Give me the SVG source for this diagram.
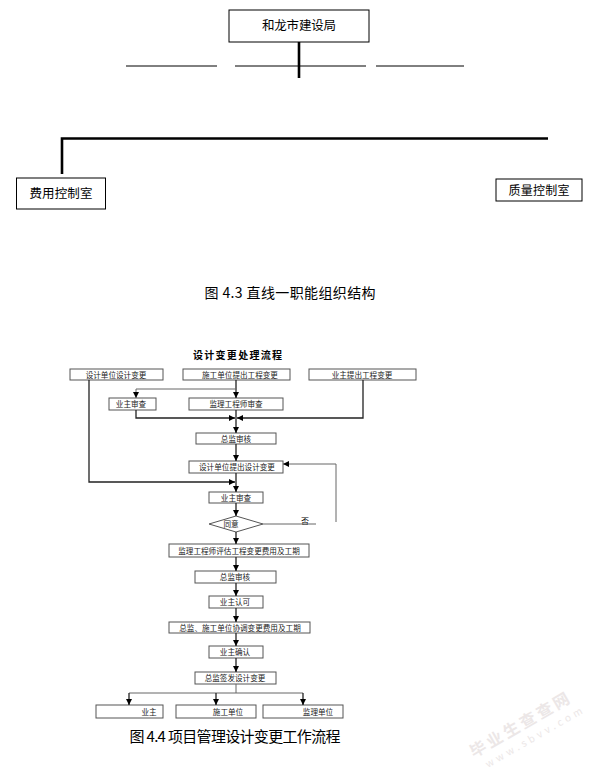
<svg xmlns="http://www.w3.org/2000/svg" width="596" height="773" viewBox="0 0 596 773">
<style>
.t{font-family:"Noto Sans CJK SC","Liberation Sans",sans-serif;fill:#000}
.b{fill:#fff;stroke:#000;stroke-width:1}
.fb{fill:#fff;stroke:#555;stroke-width:1}
.ft{font-family:"Noto Sans CJK SC","Liberation Sans",sans-serif;font-size:7.6px;fill:#222;text-anchor:middle}
.ln{fill:none;stroke:#000;stroke-width:1}
.thick{fill:none;stroke:#000;stroke-width:2.6}
.fl{fill:none;stroke:#222;stroke-width:1.3}
.fg{fill:none;stroke:#666;stroke-width:1}
</style>
<defs>
<marker id="ah" viewBox="0 0 10 10" refX="10" refY="5" markerWidth="6" markerHeight="6" markerUnits="userSpaceOnUse" orient="auto"><path d="M0,0 L10,5 L0,10 z" fill="#000"/></marker>
</defs>
<rect width="596" height="773" fill="#fff"/>

<!-- Top org chart -->
<g id="n-jsj"><rect class="b" x="229" y="10" width="140" height="32"/><text class="t" x="299" y="30" font-size="12.5" text-anchor="middle" textLength="74">和龙市建设局</text></g>
<g id="n-fy"><rect class="b" x="16.5" y="178" width="89" height="31"/><text class="t" x="61" y="198" font-size="12.5" text-anchor="middle" textLength="63">费用控制室</text></g>
<g id="n-zl"><rect class="b" x="496" y="179" width="86" height="22"/><text class="t" x="539" y="195" font-size="12" text-anchor="middle" textLength="61">质量控制室</text></g>
<g id="org-connectors">
<path class="thick" d="M299,42 V78"/>
<path class="ln" d="M126,66 H217 M235,66 H366 M376,66 H464"/>
<path class="thick" d="M62,174 V138.5 H548"/>
</g>
<text class="t" x="290" y="298" font-size="14" text-anchor="middle" textLength="171">图 4.3 直线一职能组织结构</text>

<!-- Flowchart -->
<text class="t" x="237.5" y="359" font-size="10" font-weight="bold" text-anchor="middle" textLength="89">设计变更处理流程</text>
<g id="f1"><rect class="fb" x="70" y="369" width="93" height="11"/><text class="ft" x="116" y="377.5">设计单位设计变更</text></g>
<g id="f2"><rect class="fb" x="183" y="369" width="107" height="11"/><text class="ft" x="240" y="377.5">施工单位提出工程变更</text></g>
<g id="f3"><rect class="fb" x="309" y="369" width="107" height="11"/><text class="ft" x="362" y="377.5">业主提出工程变更</text></g>
<g id="f4"><rect class="fb" x="109" y="398" width="47" height="12"/><text class="ft" x="131" y="407">业主审查</text></g>
<g id="f5"><rect class="fb" x="189" y="398" width="94" height="12"/><text class="ft" x="236" y="407">监理工程师审查</text></g>
<g id="f6"><rect class="fb" x="196" y="433" width="80" height="11"/><text class="ft" x="236" y="441.5">总监审核</text></g>
<g id="f7"><rect class="fb" x="189" y="461" width="94" height="12"/><text class="ft" x="237" y="470">设计单位提出设计变更</text></g>
<g id="f8"><rect class="fb" x="209" y="492" width="54" height="11"/><text class="ft" x="236" y="500.5">业主审查</text></g>
<g id="f9"><path class="fb" d="M236,516 L263,524 L236,532 L209,524 Z"/><text class="ft" x="231" y="527">同意</text></g>
<text class="t" x="305" y="524" font-size="8" text-anchor="middle">否</text>
<g id="f10"><rect class="fb" x="169" y="544" width="140" height="13"/><text class="ft" x="239" y="553.5">监理工程师评估工程变更费用及工期</text></g>
<g id="f11"><rect class="fb" x="195" y="571" width="81" height="12"/><text class="ft" x="235" y="580">总监审核</text></g>
<g id="f12"><rect class="fb" x="209" y="596" width="54" height="12"/><text class="ft" x="235" y="605">业主认可</text></g>
<g id="f13"><rect class="fb" x="169" y="622" width="141" height="11"/><text class="ft" x="240" y="630.5">总监、施工单位协调变更费用及工期</text></g>
<g id="f14"><rect class="fb" x="209" y="646" width="54" height="12"/><text class="ft" x="235" y="655">业主确认</text></g>
<g id="f15"><rect class="fb" x="195" y="672" width="81" height="12"/><text class="ft" x="235" y="681">总监签发设计变更</text></g>
<g id="f16"><rect class="fb" x="96" y="705" width="67" height="13"/><text class="ft" x="149" y="714.5">业主</text></g>
<g id="f17"><rect class="fb" x="176" y="705" width="80" height="13"/><text class="ft" x="228" y="714.5">施工单位</text></g>
<g id="f18"><rect class="fb" x="263" y="705" width="80" height="13"/><text class="ft" x="318" y="714.5">监理单位</text></g>

<g id="flow-connectors">
<path class="fl" d="M236,380 V398" marker-end="url(#ah)"/>
<path class="fg" d="M236,389 H136 V398" marker-end="url(#ah)"/>
<path class="fl" d="M136,410 V418 H235" marker-end="url(#ah)"/>
<path class="fl" d="M363,380 V418 H237" marker-end="url(#ah)"/>
<path class="fl" d="M236,410 V433" marker-end="url(#ah)"/>
<path class="fl" d="M236,444 V461" marker-end="url(#ah)"/>
<path class="fl" d="M89,380 V482 H235" marker-end="url(#ah)"/>
<path class="fl" d="M236,473 V492" marker-end="url(#ah)"/>
<path class="fl" d="M236,503 V516" marker-end="url(#ah)"/>
<path class="fg" d="M263,524 H316"/>
<path class="fg" d="M336,522 V464 H283" marker-end="url(#ah)"/>
<path class="fl" d="M236,532 V544" marker-end="url(#ah)"/>
<path class="fl" d="M236,557 V571" marker-end="url(#ah)"/>
<path class="fl" d="M236,583 V596" marker-end="url(#ah)"/>
<path class="fl" d="M236,608 V622" marker-end="url(#ah)"/>
<path class="fl" d="M236,633 V646" marker-end="url(#ah)"/>
<path class="fl" d="M236,658 V672" marker-end="url(#ah)"/>
<path class="fg" d="M236,684 V693 M129,693 H303"/>
<path class="fl" d="M129,693 V705" marker-end="url(#ah)"/>
<path class="fl" d="M216,693 V705" marker-end="url(#ah)"/>
<path class="fl" d="M303,693 V705" marker-end="url(#ah)"/>
</g>
<text class="t" x="235" y="742" font-size="15" text-anchor="middle" textLength="211">图 4.4 项目管理设计变更工作流程</text>

<!-- watermark -->
<g fill="#ece7e7" font-family="Noto Sans CJK SC, sans-serif">
<text x="474" y="758" font-size="16" font-weight="bold" transform="rotate(-30 474 758)" textLength="112">毕业生查查网</text>
<text x="488" y="768" font-size="10" transform="rotate(-30 488 768)" textLength="110">www.sbvv.com</text>
</g>
</svg>
